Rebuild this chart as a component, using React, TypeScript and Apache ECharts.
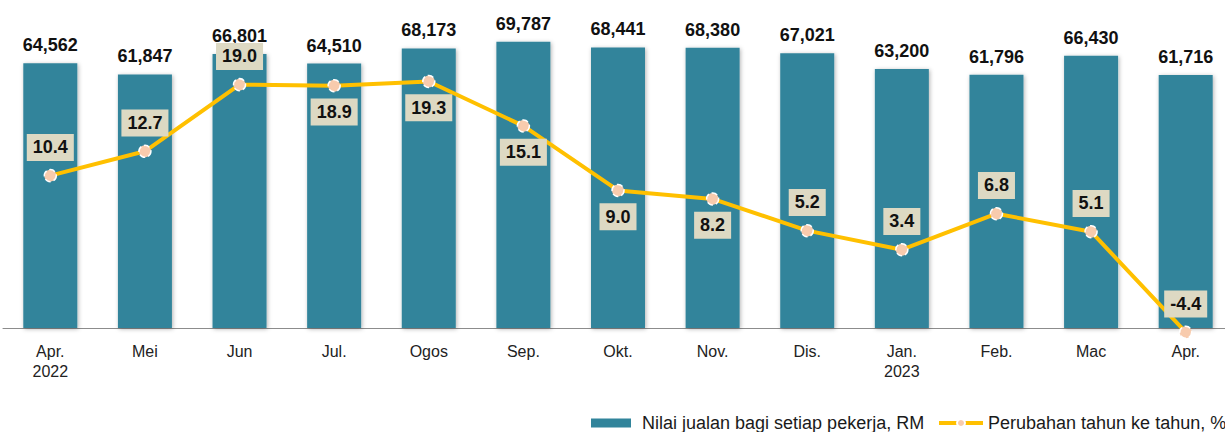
import { useEffect, useRef } from "react";
import * as echarts from "echarts";

const categories = [
  "Apr.\n2022", "Mei", "Jun", "Jul.", "Ogos", "Sep.", "Okt.", "Nov.", "Dis.", "Jan.\n2023", "Feb.", "Mac", "Apr.",
];
const salesPerWorker = [64562, 61847, 66801, 64510, 68173, 69787, 68441, 68380, 67021, 63200, 61796, 66430, 61716];
const yoyChange = [10.4, 12.7, 19.0, 18.9, 19.3, 15.1, 9.0, 8.2, 5.2, 3.4, 6.8, 5.1, -4.4];
const barName = "Nilai jualan bagi setiap pekerja, RM";
const lineName = "Perubahan tahun ke tahun, %";

// label placement for the line labels (layout only)
const lineLabelBelow = [false, false, false, true, true, true, true, true, false, false, false, false, false];

const FONT = 'Arial, "Liberation Sans", sans-serif';
const BAR_COLOR = "#31849B";
const LINE_COLOR = "#FFC000";

export default function App() {
  const ref = useRef<HTMLDivElement>(null);
  useEffect(() => {
    if (!ref.current) return;
    const chart = echarts.init(ref.current, null, { renderer: "svg" });
    const lineData = yoyChange.map((v, i) => ({
      value: v,
      label: lineLabelBelow[i]
        ? { position: "bottom", distance: 6 }
        : { position: "top", distance: 8 },
    }));
    chart.setOption({
      animation: false,
      textStyle: { fontFamily: FONT },
      grid: { left: 3, right: 7, top: -1, height: 329, containLabel: false },
      legend: [
        {
          data: [{ name: barName, icon: "rect" }],
          left: 591,
          top: 413,
          padding: 0,
          itemWidth: 40,
          itemHeight: 9,
          textStyle: { fontSize: 18, color: "#1a1a1a", fontFamily: FONT, lineHeight: 20, padding: [0, 0, 0, 6] },
        },
        {
          data: [lineName],
          left: 937,
          top: 413,
          padding: 0,
          itemWidth: 44,
          itemHeight: 10,
          lineStyle: { width: 4, color: LINE_COLOR },
          textStyle: { fontSize: 18, color: "#1a1a1a", fontFamily: FONT, lineHeight: 20 },
        },
      ],
      xAxis: {
        type: "category",
        data: categories,
        boundaryGap: true,
        axisLine: { lineStyle: { color: "#8c8c8c", width: 1 } },
        axisTick: { show: false },
        axisLabel: {
          color: "#222",
          fontSize: 16,
          lineHeight: 20,
          margin: 13,
          fontFamily: FONT,
          interval: 0,
        },
      },
      yAxis: [
        { type: "value", min: 0, max: 80000, show: false, splitLine: { show: false } },
        { type: "value", min: -4, max: 27, show: false, splitLine: { show: false } },
      ],
      series: [
        {
          name: barName,
          type: "bar",
          data: salesPerWorker,
          barWidth: 54,
          itemStyle: {
            color: BAR_COLOR,
            shadowBlur: 4,
            shadowColor: "rgba(0,0,0,0.3)",
            shadowOffsetX: 1,
            shadowOffsetY: 1,
          },
          label: {
            show: true,
            position: "top",
            distance: 9,
            fontSize: 18,
            fontWeight: "bold",
            color: "#111",
            fontFamily: FONT,
            formatter: (p: any) => Number(p.value).toLocaleString("en-US"),
          },
          z: 1,
        },
        {
          name: lineName,
          type: "line",
          yAxisIndex: 1,
          data: lineData,
          clip: false,
          symbol: "circle",
          symbolSize: 12,
          lineStyle: { color: LINE_COLOR, width: 4 },
          itemStyle: {
            color: "#F8CBAD",
            borderColor: "#ffffff",
            borderWidth: 1.5,
            borderType: "dashed",
          },
          label: {
            show: true,
            fontSize: 18,
            fontWeight: "bold",
            color: "#111",
            fontFamily: FONT,
            backgroundColor: "#DDD9C3",
            padding: [3, 6, 3, 6],
            lineHeight: 21,
            formatter: (p: any) => Number(p.value).toFixed(1),
          },
          z: 3,
        },
      ],
    });
    return () => chart.dispose();
  }, []);
  return (
    <div
      style={{ position: "absolute", left: 0, top: 0, width: 1225, height: 432, overflow: "hidden" }}
    >
      <div ref={ref} style={{ width: 1240, height: 432 }} />
    </div>
  );
}
